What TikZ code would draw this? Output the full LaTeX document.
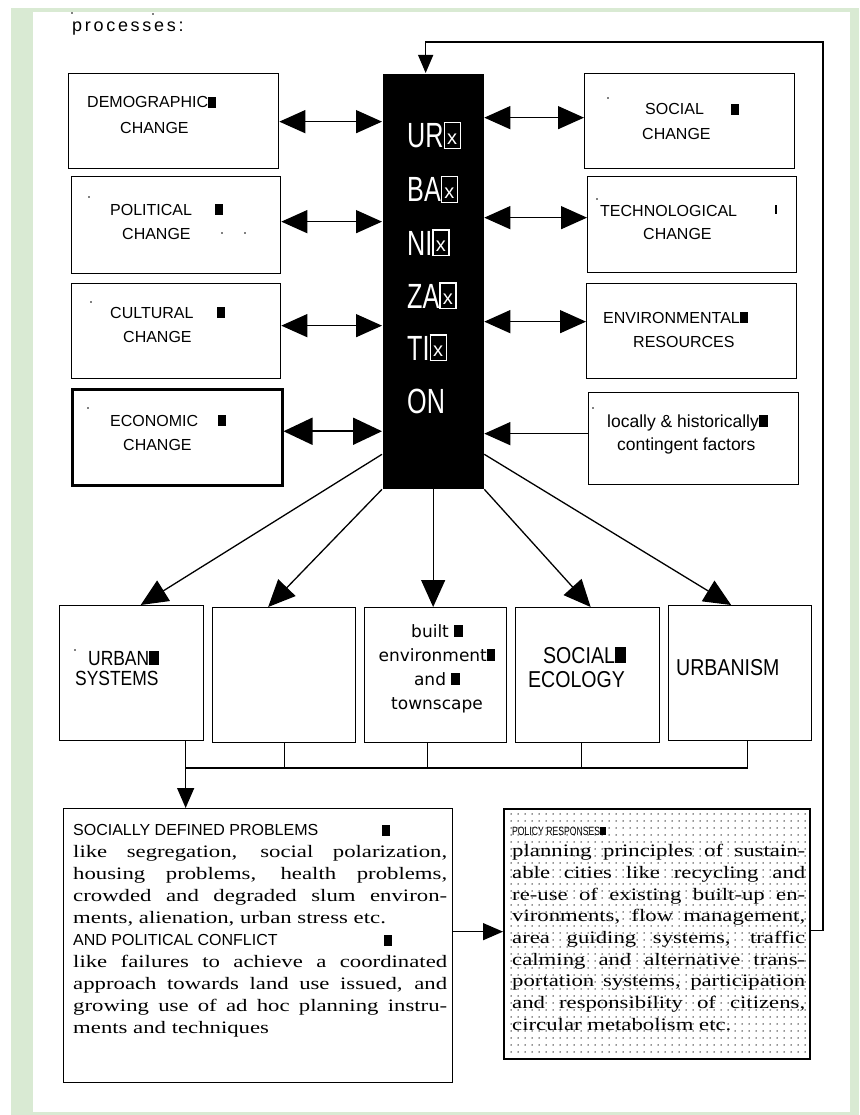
\documentclass[tikz,border=0pt]{standalone}
\usepackage{fontspec}
\setmainfont{Liberation Serif}
\newfontfamily\lsans{Liberation Sans}
\newfontfamily\nsans[FakeStretch=0.85]{Liberation Sans}
\newfontfamily\csans[FakeStretch=0.72]{Liberation Sans}
\newfontfamily\dsans{DejaVu Sans}
\newfontfamily\wserif[FakeStretch=1.3]{Liberation Serif}
\newfontfamily\spsans[LetterSpace=15]{Liberation Sans}
\usetikzlibrary{arrows.meta,patterns.meta}
\definecolor{bggreen}{RGB}{217,234,211}
\newcommand\tofu{\rule{0.5em}{0.7em}}
\newcommand\tofox{{\fboxsep=0pt\fboxrule=1.2pt\fbox{\makebox[0.42em]{\rule{0pt}{0.7em}\raisebox{0.1em}{\lsans\fontsize{20}{20}\selectfont x}}}}}
\setlength\parindent{0pt}
\tolerance=10000 \hbadness=10000 \hyphenpenalty=10000 \exhyphenpenalty=10000
\begin{document}
\begin{tikzpicture}[x=1pt,y=-1pt,
  box/.style={draw, line width=1.3pt, anchor=north west, inner sep=0pt},
  lbl/.style={anchor=base west, inner sep=0pt, font=\lsans\fontsize{16}{16}\selectfont},
  clbl/.style={anchor=base, inner sep=0pt, font=\dsans\fontsize{17}{17}\selectfont},
  blbl/.style={anchor=base west, inner sep=0pt, font=\nsans\fontsize{20.5}{20.5}\selectfont},
  slbl/.style={anchor=base west, inner sep=0pt, font=\nsans\fontsize{23}{23}\selectfont},
  ulbl/.style={anchor=base west, inner sep=0pt, text=white, font=\csans\fontsize{35}{35}\selectfont},
  dotm/.style={circle, fill, inner sep=0pt, minimum size=1.6pt},
  conn/.style={line width=1.3pt},
  dar/.style={conn, {Triangle[length=26pt,width=23pt]}-{Triangle[length=26pt,width=23pt]}},
  dar2/.style={line width=1.8pt, {Triangle[length=29pt,width=27pt]}-{Triangle[length=29pt,width=27pt]}},
  lar/.style={conn, -{Triangle[length=26pt,width=23pt]}},
  far/.style={conn, -{Triangle[length=27pt,width=24pt]}},
  sar/.style={conn, -{Triangle[length=20pt,width=17pt]}},
  tar/.style={conn, -{Triangle[length=18pt,width=15pt]}}]
\useasboundingbox (0,0) rectangle (859,1115);
\fill[white] (0,0) rectangle (859,1115);
\fill[bggreen] (11,8) rectangle (859,1115);
\fill[white] (33,12) rectangle (850,1112);

% heading
\node[anchor=base west, inner sep=0pt, font=\spsans\fontsize{18}{18}\selectfont] (pr) at (72,32) {processes:};
\node[dotm] (d0) at (72,13) {};
\node[dotm] (d00) at (153,14) {};

% central box
\node[box, draw=none, fill=black, minimum width=101pt, minimum height=415pt] (urb) at (382,73) {};
\node[ulbl] (u1) at (407,148) {UR\tofox};
\node[ulbl] (u2) at (407,202) {BA\tofox};
\node[ulbl] (u3) at (407,255) {NI\tofox};
\node[ulbl] (u4) at (407,308) {ZA\tofox};
\node[ulbl] (u5) at (407,360) {TI\tofox};
\node[ulbl] (u6) at (407,413) {ON};

% left boxes
\node[box, minimum width=210pt, minimum height=95pt] (demo) at (68,73) {};
\node[box, minimum width=209pt, minimum height=97pt] (pol) at (71,176) {};
\node[box, minimum width=209pt, minimum height=95pt] (cul) at (71,283) {};
\node[box, line width=2.5pt, minimum width=210pt, minimum height=96pt] (eco) at (71,388) {};
\node[lbl] (t1a) at (87,108) {DEMOGRAPHIC\tofu};
\node[lbl] (t1b) at (120,134) {CHANGE};
\node[lbl] (t2a) at (110,215) {POLITICAL\hspace{23pt}\tofu};
\node[lbl] (t2b) at (122,240) {CHANGE};
\node[lbl] (t3a) at (110,318) {CULTURAL\hspace{24pt}\tofu};
\node[lbl] (t3b) at (123,342) {CHANGE};
\node[lbl] (t4a) at (110,426) {ECONOMIC\hspace{20pt}\tofu};
\node[lbl] (t4b) at (123,450) {CHANGE};
\node[dotm] (d1) at (89,197) {};
\node[dotm] (d2) at (222,233) {};
\node[dotm] (d3) at (245,233) {};
\node[dotm] (d4) at (91,302) {};
\node[dotm] (d5) at (88,408) {};

% right boxes
\node[box, minimum width=210pt, minimum height=95pt] (soc) at (584,73) {};
\node[box, minimum width=209pt, minimum height=96pt] (tech) at (587,176) {};
\node[box, minimum width=210pt, minimum height=95pt] (env) at (586,283) {};
\node[box, minimum width=210pt, minimum height=92pt] (loc) at (588,392) {};
\node[lbl] (t5a) at (645,115) {SOCIAL\hspace{27pt}\tofu};
\node[lbl] (t5b) at (642,140) {CHANGE};
\node[lbl] (t6a) at (600,217) {TECHNOLOGICAL};
\node[lbl] (t6m) at (775,214) {\rule{2pt}{9pt}};
\node[lbl] (t6b) at (643,240) {CHANGE};
\node[lbl] (t7a) at (603,323) {ENVIRONMENTAL\tofu};
\node[lbl] (t7b) at (633,347) {RESOURCES};
\node[lbl, font=\lsans\fontsize{17.5}{17.5}\selectfont] (t8a) at (607,427) {locally \& historically\tofu};
\node[lbl, font=\lsans\fontsize{17.5}{17.5}\selectfont] (t8b) at (617,450) {contingent factors};
\node[dotm] (d6) at (608,98) {};
\node[dotm] (d7) at (597,199) {};
\node[dotm] (d8) at (593,408) {};

% horizontal arrows
\path (demo.east) ++(0,0.5) coordinate (a1);
\path (pol.east) ++(0,-3.5) coordinate (a2);
\path (cul.east) ++(0,-5.5) coordinate (a3);
\path (eco.east) ++(0,-6) coordinate (a4);
\path (soc.west) ++(0,-3.5) coordinate (a5);
\path (tech.west) ++(0,-7) coordinate (a6);
\path (env.west) ++(0,-9.5) coordinate (a7);
\path (loc.west) ++(0,-5) coordinate (a8);
\draw[dar] (a1) -- (a1 -| urb.west);
\draw[dar] (a2) -- (a2 -| urb.west);
\draw[dar] (a3) -- (a3 -| urb.west);
\draw[dar2] (a4) -- (a4 -| urb.west);
\draw[dar] (a5 -| urb.east) -- (a5);
\draw[dar] (a6 -| urb.east) -- (a6);
\draw[dar] (a7 -| urb.east) -- (a7);
\draw[lar] (a8) -- (a8 -| urb.east);

% lower boxes
\node[box, minimum width=144pt, minimum height=135pt] (us) at (59,605) {};
\node[box, minimum width=143pt, minimum height=135pt] (blank) at (212,607) {};
\node[box, minimum width=142pt, minimum height=135pt] (built) at (364,607) {};
\node[box, minimum width=144pt, minimum height=135pt] (se) at (515,607) {};
\node[box, minimum width=143pt, minimum height=135pt] (ubm) at (668,605) {};
\node[blbl] (t9a) at (88,665) {URBAN\tofu};
\node[blbl] (t9b) at (75,685) {SYSTEMS};
\node[dotm] (d9) at (75,650) {};
\node[clbl] (t10a) at (437,637) {built \tofu};
\node[clbl] (t10b) at (437,661) {environment\tofu};
\node[clbl] (t10c) at (437,685) {and \tofu};
\node[clbl] (t10d) at (437,709) {townscape};
\node[slbl] (t11a) at (543,663) {SOCIAL\tofu};
\node[slbl] (t11b) at (528,687) {ECOLOGY};
\node[slbl] (t12) at (676,675) {URBANISM};

% fan arrows
\draw[far] ([yshift=35pt]urb.south west) -- ([xshift=9pt]us.north);
\draw[far] (urb.south west) -- ([xshift=-16pt]blank.north);
\draw[far] (urb.south) -- (urb.south |- built.north);
\draw[far] (urb.south east) -- ([xshift=3pt]se.north);
\draw[far] ([yshift=35pt]urb.south east) -- ([xshift=-9pt]ubm.north);

% problem & policy boxes
\node[box, minimum width=389pt, minimum height=274pt] (prob) at (63,808) {};
\node[box, line width=1.6pt, minimum width=306pt, minimum height=250pt,
      pattern={Dots[distance=7pt,radius=0.75pt]}, pattern color=black!85] (plc) at (503,808) {};

\node[anchor=north west, inner sep=0pt, text width=374pt, align=justify,
      font=\wserif\fontsize{17.5}{22}\selectfont] (probtxt) at (73,824.5) {%
{\lsans\fontsize{16}{22}\selectfont SOCIALLY DEFINED PROBLEMS\hspace{64pt}\tofu}\par
like segregation, social polarization,\linebreak
housing problems, health problems,\linebreak
crowded and degraded slum environ-\linebreak
ments, alienation, urban stress etc.\par
{\lsans\fontsize{16}{22}\selectfont AND POLITICAL CONFLICT\hspace{106pt}\tofu}\par
like failures to achieve a coordinated\linebreak
approach towards land use issued, and\linebreak
growing use of ad hoc planning instru-\linebreak
ments and techniques};

\node[anchor=north west, inner sep=0pt, text width=293pt, align=justify,
      font=\wserif\fontsize{17.5}{21.7}\selectfont] (plctxt) at (512,826.4) {%
{\csans\fontsize{12}{21.7}\selectfont POLICY RESPONSES\tofu}\par
planning principles of sustain-\linebreak
able cities like recycling and\linebreak
re-use of existing built-up en-\linebreak
vironments, flow management,\linebreak
area guiding systems, traffic\linebreak
calming and alternative trans-\linebreak
portation systems, participation\linebreak
and responsibility of citizens,\linebreak
circular metabolism etc.};

% bus and connectors
\coordinate (busy) at (0,768);
\path (us.south) ++(54,0) coordinate (usb);
\path (built.south) ++(-8,0) coordinate (s2);
\path (se.south) ++(-6,0) coordinate (s3);
\path (ubm.south) ++(7.5,0) coordinate (s4);
\draw[conn] (blank.south) -- (blank.south |- busy);
\draw[conn] (s2) -- (s2 |- busy);
\draw[conn] (s3) -- (s3 |- busy);
\draw[conn] (s4) -- (s4 |- busy);
\draw[conn] (usb |- busy) -- (s4 |- busy);
\draw[sar] (usb) -- (usb |- prob.north);

\path (prob.east) ++(0,-14) coordinate (pp);
\draw[sar] (pp) -- (pp -| plc.west);

\path (plc.east) ++(0,-3) coordinate (pq);
\coordinate (fb) at (823,42);
\path (urb.north) ++(-7.5,0) coordinate (ut);
\draw[tar] (pq) -| (fb) -| (ut);
\end{tikzpicture}
\end{document}
